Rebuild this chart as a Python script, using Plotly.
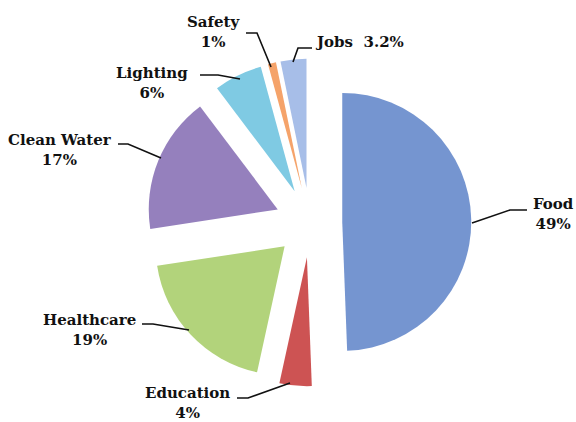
import plotly.graph_objects as go

# ---- data ----
categories = ["Food", "Education", "Healthcare", "Clean Water", "Lighting", "Safety", "Jobs"]
values = [49, 4, 19, 17, 6, 1, 3.2]
label_texts = ["Food<br>49%", "Education<br>4%", "Healthcare<br>19%", "Clean Water<br>17%",
               "Lighting<br>6%", "Safety<br>1%", "Jobs  3.2%"]

# ---- style ----
colors = ["#7595d0", "#cd5353", "#b2d37b", "#9580bd", "#7fcae3", "#f5a36a", "#a7bee8"]
pulls = [0.25, 0.27, 0.27, 0.27, 0.27, 0.27, 0.27]

W, H = 576, 422

def px(x):
    return x / W

def py(y):
    return 1 - y / H

fig = go.Figure()
fig.add_trace(go.Pie(
    labels=categories,
    values=values,
    sort=False,
    direction="clockwise",
    rotation=0,
    pull=pulls,
    marker=dict(colors=colors, line=dict(width=0)),
    textinfo="none",
    hoverinfo="label+percent",
    showlegend=False,
    domain=dict(x=[0.2538, 0.8226], y=[0.0845, 0.861]),
))

# label positions (pixel centres) and leader lines (pixel polylines)
label_pos = {
    "Food": (553, 214),
    "Education": (187, 403),
    "Healthcare": (89, 330),
    "Clean Water": (60, 150),
    "Lighting": (152, 83),
    "Safety": (213, 32),
    "Jobs": (359, 42),
}
leaders = {
    "Food": [(472, 223), (510, 210), (527, 210)],
    "Education": [(237, 398), (248, 398), (290, 383)],
    "Healthcare": [(142, 324), (153, 324), (189, 330)],
    "Clean Water": [(118, 144), (128, 144), (161, 158)],
    "Lighting": [(200, 75), (218, 75), (240, 79)],
    "Safety": [(246, 33), (257, 33), (271, 67)],
    "Jobs": [(312, 48), (298, 48), (293, 62)],
}

font = dict(family="DejaVu Serif", size=15, color="#111111")
for cat, txt in zip(categories, label_texts):
    x, y = label_pos[cat]
    fig.add_annotation(x=px(x), y=py(y), xref="paper", yref="paper",
                       text="<b>" + txt + "</b>", showarrow=False,
                       font=font, align="center", xanchor="center", yanchor="middle")
    pts = leaders[cat]
    path = "M " + " L ".join(f"{px(a):.5f},{py(b):.5f}" for a, b in pts)
    fig.add_shape(type="path", path=path, xref="paper", yref="paper",
                  line=dict(color="#111111", width=1.6))

fig.update_layout(
    width=W, height=H,
    margin=dict(l=0, r=0, t=0, b=0),
    paper_bgcolor="white",
    plot_bgcolor="white",
)

fig.write_html("out.html")
